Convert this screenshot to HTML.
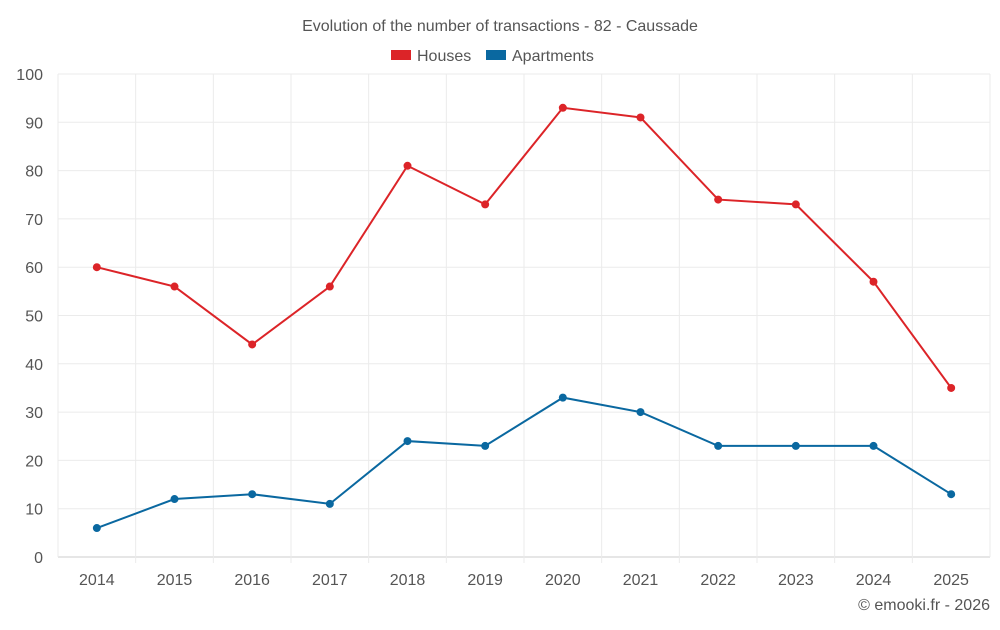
<!DOCTYPE html>
<html><head><meta charset="utf-8"><style>
body{margin:0;background:#fff;font-family:"Liberation Sans",sans-serif;}
svg text{font-family:"Liberation Sans",sans-serif;fill:#555;}
</style></head><body>
<svg id="chart" width="1000" height="625">
<text x="500" y="31" text-anchor="middle" font-size="16">Evolution of the number of transactions - 82 - Caussade</text>
<g>
<g><rect x="391" y="50" width="20" height="10" fill="#dc2428"></rect><text x="417" y="61" font-size="16">Houses</text></g>
<g><rect x="486" y="50" width="20" height="10" fill="#0a68a0"></rect><text x="512" y="61" font-size="16">Apartments</text></g>
</g>
<g id="grid"></g>
<g id="axes"></g>
<g id="series"></g>
<text x="990" y="610" text-anchor="end" font-size="16">© emooki.fr - 2026</text>
</svg>
<script>
const years=["2014","2015","2016","2017","2018","2019","2020","2021","2022","2023","2024","2025"];
const houses=[60,56,44,56,81,73,93,91,74,73,57,35];
const apartments=[6,12,13,11,24,23,33,30,23,23,23,13];
const yTicks=[0,10,20,30,40,50,60,70,80,90,100];
const NS="http://www.w3.org/2000/svg";
const L=58,R=990,T=74,B=557;
const bw=(R-L)/years.length;
const xs=i=>L+bw*(i+0.5);
const ys=v=>B-(v/100)*(B-T);
function mk(tag,attrs,parent){const e=document.createElementNS(NS,tag);for(const k in attrs)e.setAttribute(k,attrs[k]);parent.appendChild(e);return e;}
const grid=document.getElementById('grid'),axes=document.getElementById('axes'),series=document.getElementById('series');
yTicks.forEach(v=>{
 const l=mk('line',{x1:L,x2:R,y1:ys(v),y2:ys(v),stroke:v===0?'#ccc':'#ebebeb','stroke-width':1},grid);
 
 
 const t=mk('text',{x:43,y:ys(v)+6,'text-anchor':'end','font-size':16},axes);
 t.textContent=v;
 
 
});
for(let i=0;i<=years.length;i++){
 const x=L+bw*i;
 const l=mk('line',{x1:x,x2:x,y1:T,y2:B+(i===0||i===years.length?0:6),stroke:'#ebebeb','stroke-width':1},grid);
 
 
}
years.forEach((y,i)=>{
 const t=mk('text',{x:xs(i),y:585,'text-anchor':'middle','font-size':16},axes);
 t.textContent=y;
 
 
});
function draw(data,color,name){
 const p=mk('polyline',{points:data.map((v,i)=>xs(i)+','+ys(v)).join(' '),fill:'none',stroke:color,'stroke-width':2},series);
 
 
 data.forEach((v,i)=>{
  const c=mk('circle',{cx:xs(i),cy:ys(v),r:4,fill:color},series);
  
  
 });
}
draw(houses,'#dc2428','houses');
draw(apartments,'#0a68a0','apartments');
</script>
</body></html>
